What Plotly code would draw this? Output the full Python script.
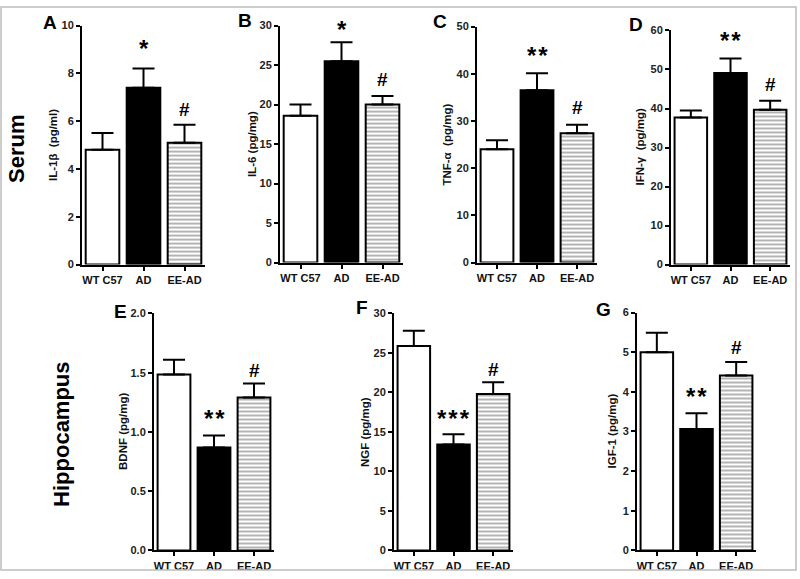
import plotly.graph_objects as go

W, H = 800, 579

groups = ["WT C57", "AD", "EE-AD"]

panel_letters = ["A", "B", "C", "D", "E", "F", "G"]
y_titles = ["IL-1β  (pg/ml)", "IL-6 (pg/mg)", "TNF-α  (pg/mg)", "IFN-γ  (pg/mg)",
            "BDNF (pg/mg)", "NGF (pg/mg)", "IGF-1 (pg/mg)"]

il1b_mean = [4.8, 7.4, 5.1]
il1b_sem = [0.7, 0.8, 0.75]
il6_mean = [18.6, 25.5, 20.0]
il6_sem = [1.4, 2.4, 1.1]
tnfa_mean = [24.0, 36.5, 27.4]
tnfa_sem = [1.9, 3.6, 1.8]
ifng_mean = [37.7, 49.1, 39.7]
ifng_sem = [1.8, 3.7, 2.3]
bdnf_mean = [1.485, 0.87, 1.29]
bdnf_sem = [0.125, 0.10, 0.12]
ngf_mean = [25.9, 13.4, 19.8]
ngf_sem = [1.9, 1.3, 1.5]
igf1_mean = [5.0, 3.06, 4.41]
igf1_sem = [0.49, 0.40, 0.34]

means = [il1b_mean, il6_mean, tnfa_mean, ifng_mean, bdnf_mean, ngf_mean, igf1_mean]
sems = [il1b_sem, il6_sem, tnfa_sem, ifng_sem, bdnf_sem, ngf_sem, igf1_sem]

# significance marks: (group, label)
signif = [
    [("AD", "*"), ("EE-AD", "#")],
    [("AD", "*"), ("EE-AD", "#")],
    [("AD", "**"), ("EE-AD", "#")],
    [("AD", "**"), ("EE-AD", "#")],
    [("AD", "**"), ("EE-AD", "#")],
    [("AD", "***"), ("EE-AD", "#")],
    [("AD", "**"), ("EE-AD", "#")],
]

y_max = [10, 30, 50, 60, 2.0, 30, 6]
y_dtick = [2, 5, 10, 10, 0.5, 5, 1]
y_fmt = ["d", "d", "d", "d", ".1f", "d", "d"]

# layout in pixels: (x_left, x_right, y_bottom, y_top)
boxes = [
    (82, 205, 264, 20),
    (280, 403, 262, 20),
    (477, 597, 262, 21),
    (671, 790, 264, 25),
    (154, 274, 556, 314),
    (394, 513, 556, 314),
    (637, 756, 556, 313),
]
letter_pos = [(50, 17), (245, 15), (440, 16), (636, 19), (120, 312), (362, 308), (603, 310)]
title_off = [29, 28, 30, 31, 31, 29, 25]
star_shift = [20, 13, 18, 18, 17, 16, 17]
hash_shift = [15, 16, 17, 16, 13, 13, 15]

def px(x):
    return x / W

def py(y):
    return 1 - y / H

FONT = "Arial, Liberation Sans, sans-serif"
fig = go.Figure()
annotations = []
layout_axes = {}

colors = ["white", "black", "white"]

for i in range(7):
    ax = "" if i == 0 else str(i + 1)
    xref, yref = "x" + ax, "y" + ax
    xl, xr, yb, yt = boxes[i]
    fig.add_trace(go.Bar(
        x=groups, y=means[i],
        xaxis=xref, yaxis=yref,
        marker=dict(
            color=colors,
            line=dict(color="black", width=2),
            pattern=dict(shape=["", "", "-"], fgcolor="#333333", bgcolor="white",
                         size=4, solidity=0.4, fillmode="overlay"),
        ),
        error_y=dict(type="data", array=sems[i], arrayminus=[0, 0, 0], symmetric=False,
                     color="black", thickness=2, width=11),
        width=0.82,
        showlegend=False,
    ))
    layout_axes["xaxis" + ax] = dict(
        domain=[px(xl), px(xr)], anchor=yref, range=[-0.5, 2.5],
        showline=True, linecolor="black", linewidth=2, mirror=False,
        ticks="outside", ticklen=4, tickwidth=2, tickcolor="black",
        tickfont=dict(family=FONT, size=11, color="#111", weight="bold"),
        showgrid=False, zeroline=False, fixedrange=True,
    )
    layout_axes["yaxis" + ax] = dict(
        domain=[py(yb), py(yt)], anchor=xref, range=[0, y_max[i]],
        showline=True, linecolor="black", linewidth=2,
        ticks="outside", ticklen=4, tickwidth=1.5, tickcolor="black",
        dtick=y_dtick[i], tick0=0, tickformat=y_fmt[i],
        tickfont=dict(family=FONT, size=11, color="#222", weight="bold"),
        showgrid=False, zeroline=False, fixedrange=True,
    )
    # y title
    annotations.append(dict(
        x=px(xl - title_off[i]), y=py((yb + yt) / 2), xref="paper", yref="paper",
        text=y_titles[i], textangle=-90, showarrow=False,
        font=dict(family=FONT, size=11.5, color="#111", weight="bold"),
        xanchor="center", yanchor="middle",
    ))
    # panel letter
    lx, ly = letter_pos[i]
    annotations.append(dict(
        x=px(lx), y=py(ly), xref="paper", yref="paper",
        text="<b>%s</b>" % panel_letters[i], showarrow=False,
        font=dict(family=FONT, size=19, color="black"),
        xanchor="center", yanchor="middle",
    ))
    # significance
    for g, lab in signif[i]:
        k = groups.index(g)
        top = means[i][k] + sems[i][k]
        is_star = lab.startswith("*")
        txt = "\u200a".join(lab) if is_star else lab
        annotations.append(dict(
            x=g, y=top, xref=xref, yref=yref,
            text="<b>%s</b>" % txt, showarrow=False,
            font=dict(family=FONT, size=24 if is_star else 19, color="black"),
            xanchor="center", yanchor="middle",
            yshift=star_shift[i] if is_star else hash_shift[i],
        ))

annotations.append(dict(
    x=px(17), y=py(146), xref="paper", yref="paper",
    text="<b>Serum</b>", textangle=-90, showarrow=False,
    font=dict(family=FONT, size=22, color="black"),
    xanchor="center", yanchor="middle",
))
annotations.append(dict(
    x=px(62), y=py(438), xref="paper", yref="paper",
    text="<b>Hippocampus</b>", textangle=-90, showarrow=False,
    font=dict(family=FONT, size=22, color="black"),
    xanchor="center", yanchor="middle",
))

fig.update_layout(
    width=W, height=H,
    margin=dict(l=0, r=0, t=0, b=0),
    paper_bgcolor="white", plot_bgcolor="white",
    bargap=0.18,
    annotations=annotations,
    shapes=[dict(type="rect", xref="paper", yref="paper",
                 x0=px(1), x1=px(796), y0=py(576), y1=py(1),
                 line=dict(color="#bdbdbd", width=1.5))],
    **layout_axes,
)

fig.write_html("out.html", config={"displayModeBar": False},
               post_script="document.body.style.margin='0';document.body.style.overflow='hidden';")
